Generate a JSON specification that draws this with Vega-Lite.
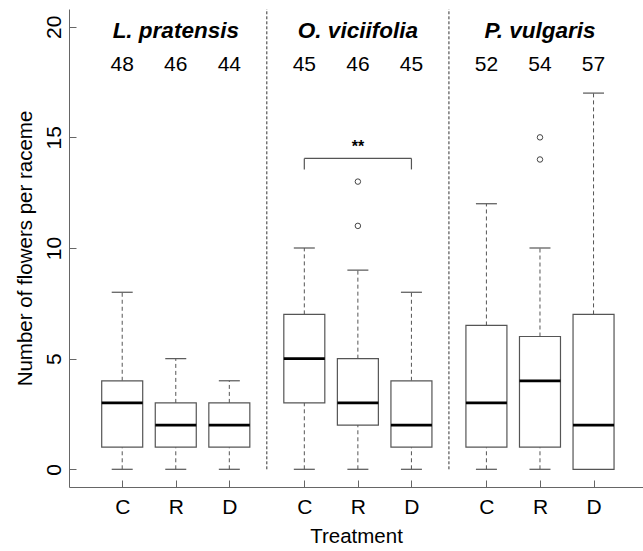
{
  "$schema": "https://vega.github.io/schema/vega-lite/v6.json",
  "width": 574,
  "height": 478,
  "autosize": {"type": "none"},
  "padding": {"left": 69, "top": 9, "right": 0, "bottom": 64},
  "background": "white",
  "config": {"view": {"stroke": null}, "font": "Liberation Sans"},
  "datasets": {
    "boxes": [
      {"species": "L. pratensis", "treatment": "C", "pos": 1, "low": 0, "q1": 1, "median": 3, "q3": 4, "high": 8, "n": 48},
      {"species": "L. pratensis", "treatment": "R", "pos": 2, "low": 0, "q1": 1, "median": 2, "q3": 3, "high": 5, "n": 46},
      {"species": "L. pratensis", "treatment": "D", "pos": 3, "low": 0, "q1": 1, "median": 2, "q3": 3, "high": 4, "n": 44},
      {"species": "O. viciifolia", "treatment": "C", "pos": 4.4, "low": 0, "q1": 3, "median": 5, "q3": 7, "high": 10, "n": 45},
      {"species": "O. viciifolia", "treatment": "R", "pos": 5.4, "low": 0, "q1": 2, "median": 3, "q3": 5, "high": 9, "n": 46},
      {"species": "O. viciifolia", "treatment": "D", "pos": 6.4, "low": 0, "q1": 1, "median": 2, "q3": 4, "high": 8, "n": 45},
      {"species": "P. vulgaris", "treatment": "C", "pos": 7.8, "low": 0, "q1": 1, "median": 3, "q3": 6.5, "high": 12, "n": 52},
      {"species": "P. vulgaris", "treatment": "R", "pos": 8.8, "low": 0, "q1": 1, "median": 4, "q3": 6, "high": 10, "n": 54},
      {"species": "P. vulgaris", "treatment": "D", "pos": 9.8, "low": 0, "q1": 0, "median": 2, "q3": 7, "high": 17, "n": 57}
    ],
    "outliers": [
      {"species": "O. viciifolia", "treatment": "R", "pos": 5.4, "value": 11},
      {"species": "O. viciifolia", "treatment": "R", "pos": 5.4, "value": 13},
      {"species": "P. vulgaris", "treatment": "R", "pos": 8.8, "value": 14},
      {"species": "P. vulgaris", "treatment": "R", "pos": 8.8, "value": 15}
    ],
    "separators": [{"x": 3.7}, {"x": 7.1}],
    "species": [
      {"species": "L. pratensis", "pos": 2, "y": 19.8},
      {"species": "O. viciifolia", "pos": 5.4, "y": 19.8},
      {"species": "P. vulgaris", "pos": 8.8, "y": 19.8}
    ],
    "bracket": [
      {"x": 4.4, "x2": 6.4, "y": 14.05, "y2": 14.05},
      {"x": 4.4, "x2": 4.4, "y": 14.05, "y2": 13.55},
      {"x": 6.4, "x2": 6.4, "y": 14.05, "y2": 13.55}
    ],
    "stars": [{"label": "**", "pos": 5.4, "y": 14.2}]
  },
  "layer": [
    {
      "data": {"name": "separators"},
      "mark": {"type": "rule", "color": "#333333", "strokeWidth": 1, "strokeDash": [3, 2]},
      "encoding": {
        "x": {
          "field": "x", "type": "quantitative",
          "scale": {"domain": [0.1, 10.63], "nice": false, "zero": false},
          "axis": {
            "title": "Treatment",
            "values": [1, 2, 3, 4.4, 5.4, 6.4, 7.8, 8.8, 9.8],
            "labelExpr": "(datum.value == 1 || datum.value == 4.4 || datum.value == 7.8) ? 'C' : ((datum.value == 2 || datum.value == 5.4 || datum.value == 8.8) ? 'R' : 'D')",
            "grid": false,
            "domainColor": "#666666",
            "tickColor": "#666666",
            "tickSize": -7,
            "labelFontSize": 21,
            "labelColor": "black",
            "labelPadding": 16,
            "labelFlush": false,
            "labelOverlap": false,
            "titleFontSize": 20.5,
            "titleFontWeight": "normal",
            "titleColor": "black",
            "titlePadding": 9
          }
        },
        "y": {
          "datum": 0, "type": "quantitative",
          "scale": {"domain": [-0.8, 20.8], "nice": false, "zero": false},
          "axis": {
            "title": "Number of flowers per raceme",
            "values": [0, 5, 10, 15, 20],
            "grid": false,
            "domainColor": "#666666",
            "tickColor": "#666666",
            "tickSize": -7,
            "labelAngle": -90,
            "labelAlign": "center",
            "labelBaseline": "bottom",
            "labelFontSize": 21,
            "labelColor": "black",
            "labelPadding": 12,
            "labelFlush": false,
            "labelOverlap": false,
            "titleFontSize": 20.5,
            "titleFontWeight": "normal",
            "titleColor": "black",
            "titlePadding": 8
          }
        },
        "y2": {"datum": 20.8}
      }
    },
    {
      "data": {"name": "boxes"},
      "mark": {"type": "rule", "color": "#555555", "strokeWidth": 1, "strokeDash": [4, 3]},
      "encoding": {
        "x": {"field": "pos", "type": "quantitative"},
        "y": {"field": "low", "type": "quantitative"},
        "y2": {"field": "q1"}
      }
    },
    {
      "data": {"name": "boxes"},
      "mark": {"type": "rule", "color": "#555555", "strokeWidth": 1, "strokeDash": [4, 3]},
      "encoding": {
        "x": {"field": "pos", "type": "quantitative"},
        "y": {"field": "q3", "type": "quantitative"},
        "y2": {"field": "high"}
      }
    },
    {
      "data": {"name": "boxes"},
      "mark": {"type": "tick", "orient": "horizontal", "color": "#555555", "opacity": 1, "size": 21, "thickness": 1.2},
      "encoding": {
        "x": {"field": "pos", "type": "quantitative"},
        "y": {"field": "low", "type": "quantitative"}
      }
    },
    {
      "data": {"name": "boxes"},
      "mark": {"type": "tick", "orient": "horizontal", "color": "#555555", "opacity": 1, "size": 21, "thickness": 1.2},
      "encoding": {
        "x": {"field": "pos", "type": "quantitative"},
        "y": {"field": "high", "type": "quantitative"}
      }
    },
    {
      "data": {"name": "boxes"},
      "mark": {"type": "bar", "size": 41, "fill": "white", "opacity": 1, "stroke": "#555555", "strokeWidth": 1.2},
      "encoding": {
        "x": {"field": "pos", "type": "quantitative"},
        "y": {"field": "q1", "type": "quantitative"},
        "y2": {"field": "q3"}
      }
    },
    {
      "data": {"name": "boxes"},
      "mark": {"type": "tick", "orient": "horizontal", "color": "black", "opacity": 1, "size": 41, "thickness": 2.7},
      "encoding": {
        "x": {"field": "pos", "type": "quantitative"},
        "y": {"field": "median", "type": "quantitative"}
      }
    },
    {
      "data": {"name": "outliers"},
      "mark": {"type": "point", "shape": "circle", "filled": false, "color": "#444444", "opacity": 1, "strokeWidth": 1, "size": 30},
      "encoding": {
        "x": {"field": "pos", "type": "quantitative"},
        "y": {"field": "value", "type": "quantitative"}
      }
    },
    {
      "data": {"name": "boxes"},
      "mark": {"type": "text", "fontSize": 21, "color": "black", "baseline": "middle"},
      "encoding": {
        "x": {"field": "pos", "type": "quantitative"},
        "y": {"datum": 18.25, "type": "quantitative"},
        "text": {"field": "n"}
      }
    },
    {
      "data": {"name": "species"},
      "mark": {"type": "text", "fontSize": 22.5, "fontWeight": "bold", "fontStyle": "italic", "color": "black", "baseline": "middle"},
      "encoding": {
        "x": {"field": "pos", "type": "quantitative"},
        "y": {"field": "y", "type": "quantitative"},
        "text": {"field": "species"}
      }
    },
    {
      "data": {"name": "bracket"},
      "mark": {"type": "rule", "color": "#555555", "strokeWidth": 1.2},
      "encoding": {
        "x": {"field": "x", "type": "quantitative"},
        "x2": {"field": "x2"},
        "y": {"field": "y", "type": "quantitative"},
        "y2": {"field": "y2"}
      }
    },
    {
      "data": {"name": "stars"},
      "mark": {"type": "text", "fontSize": 16, "fontWeight": "bold", "color": "black", "baseline": "bottom"},
      "encoding": {
        "x": {"field": "pos", "type": "quantitative"},
        "y": {"field": "y", "type": "quantitative"},
        "text": {"field": "label"}
      }
    }
  ]
}
